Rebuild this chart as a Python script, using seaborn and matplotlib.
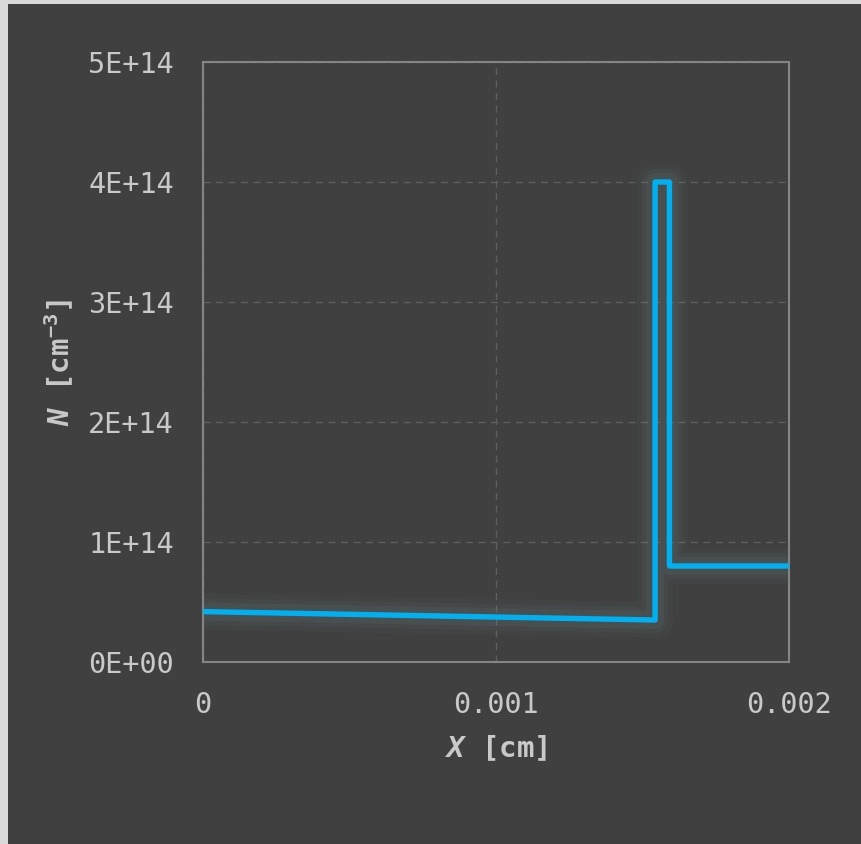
import matplotlib
matplotlib.use("Agg")
import matplotlib.pyplot as plt
import matplotlib.patheffects as pe
from matplotlib.patches import Rectangle
import seaborn as sns
import pandas as pd

# Doping profile along the device depth
x_cm = [0.0, 0.001543, 0.001543, 0.001592, 0.001592, 0.002]
n_cm3 = [4.2e13, 3.5e13, 4.0e14, 4.0e14, 8.0e13, 8.0e13]

x_ticks = [0.0, 0.001, 0.002]
x_tick_labels = ["0", "0.001", "0.002"]
y_ticks = [0, 1e14, 2e14, 3e14, 4e14, 5e14]
y_tick_labels = ["0E+00", "1E+14", "2E+14", "3E+14", "4E+14", "5E+14"]

BG = "#404040"
TXT = "#c9c9c9"
FRAME = "#858585"
GRID = "#5e5e5e"
LINE = "#00b0f0"

sns.set_theme(style="dark")
plt.rcParams["font.family"] = ["DejaVu Sans Mono", "DejaVu Sans"]
plt.rcParams["mathtext.fontset"] = "custom"
plt.rcParams["mathtext.rm"] = "DejaVu Sans Mono:bold"
plt.rcParams["mathtext.bf"] = "DejaVu Sans Mono:bold"
plt.rcParams["mathtext.it"] = "DejaVu Sans Mono:italic:bold"

fig = plt.figure(figsize=(8.62, 8.44), dpi=100, facecolor="#d9d9d9")
fig.patches.append(Rectangle((8 / 862, 0), 1 - 9 / 862, 1 - 4 / 844,
                             transform=fig.transFigure, facecolor=BG,
                             edgecolor="none", zorder=-10))

ax = fig.add_axes([203 / 862, 1 - 662 / 844, 586 / 862, 600 / 844])
ax.set_zorder(5)
ax.set_facecolor(BG)

df = pd.DataFrame({"x": x_cm, "n": n_cm3})
glow = [pe.Stroke(linewidth=w, foreground="#7a9aa0", alpha=a)
        for w, a in [(26, 0.04), (19, 0.06), (13, 0.08)]] + [pe.Normal()]
sns.lineplot(data=df, x="x", y="n", sort=False, estimator=None, ax=ax,
             color=LINE, linewidth=3.9, solid_joinstyle="round",
             solid_capstyle="butt", path_effects=glow, zorder=3)

ax.set_xlim(0, 0.002)
ax.set_ylim(0, 5e14)
ax.set_xticks(x_ticks)
ax.set_xticklabels(x_tick_labels)
ax.set_yticks(y_ticks)
ax.set_yticklabels(y_tick_labels)
ax.tick_params(axis="both", length=0, labelsize=20.5, labelcolor=TXT)
ax.tick_params(axis="x", pad=21)
ax.tick_params(axis="y", pad=21)

ax.grid(True, color=GRID, linestyle=(0, (5, 4)), linewidth=1.0)
for s in ax.spines.values():
    s.set_visible(True)
    s.set_color(FRAME)
    s.set_linewidth(1.5)

ax.set_xlabel(r"$\mathit{X}$ [cm]", fontsize=21, fontweight="bold",
              color=TXT)
ax.set_ylabel(r"$\mathit{N}$ [cm$^{-3}$]", fontsize=21, fontweight="bold",
              color=TXT)
ax.yaxis.set_label_coords(-(203 - 76) / 586, 0.5)
ax.xaxis.set_label_coords(0.5, -(733 - 662) / 600)

fig.savefig("out.png", dpi=100, facecolor=fig.get_facecolor())
